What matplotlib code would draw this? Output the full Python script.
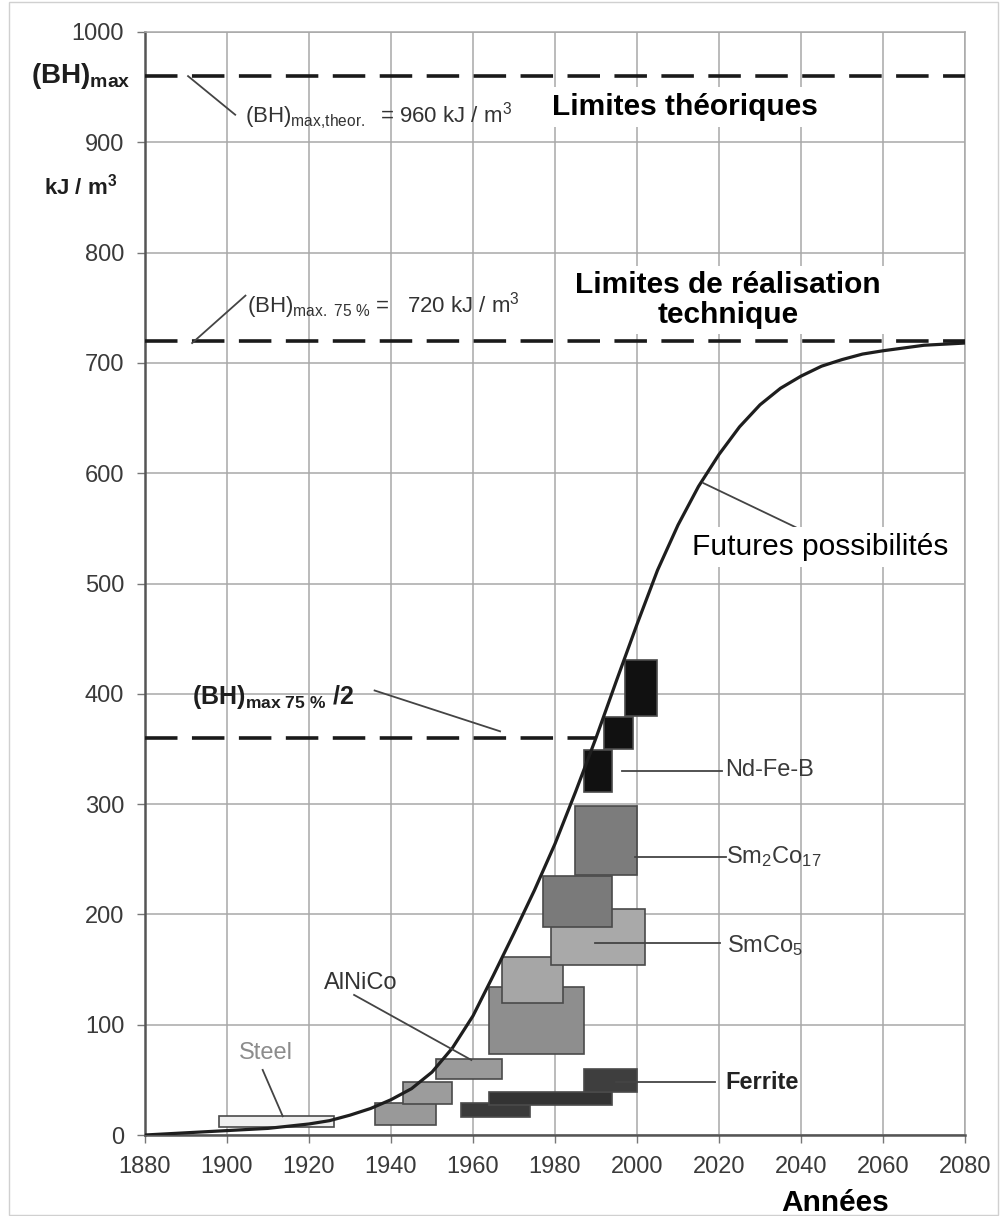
import numpy as np
import matplotlib.pyplot as plt
from matplotlib.patches import Rectangle

plt.rcParams['font.family'] = ['Liberation Sans', 'DejaVu Sans']
plt.rcParams['mathtext.fontset'] = 'custom'
plt.rcParams['mathtext.rm'] = 'Liberation Sans'
plt.rcParams['mathtext.bf'] = 'Liberation Sans:bold'
plt.rcParams['mathtext.it'] = 'Liberation Sans:italic'

# S-curve of (BH)max over the years
curve_years = [1880, 1890, 1900, 1910, 1920, 1925, 1930, 1935, 1940, 1945,
               1950, 1955, 1960, 1965, 1970, 1975, 1980, 1985, 1990, 1995,
               2000, 2005, 2010, 2015, 2020, 2025, 2030, 2035, 2040, 2045,
               2050, 2055, 2060, 2070, 2080]
curve_values = [0, 2, 4, 6, 10, 13, 18, 24, 32, 42,
                57, 79, 108, 145, 183, 222, 264, 311, 360, 412,
                463, 512, 553, 588, 617, 642, 662, 677, 688, 697,
                703, 708, 711, 716, 718]

# limits (kJ/m3)
bh_theor = 960
bh_75 = 720
bh_75_half = 360

# material ranges: (year start, year end, value low, value high)
steel_boxes = [(1898, 1926, 7, 17)]
alnico_boxes = [(1936, 1951, 9, 29), (1943, 1955, 28, 48), (1951, 1967, 51, 69),
                (1964, 1987, 73, 134), (1967, 1982, 120, 161)]
ferrite_boxes = [(1957, 1974, 16, 29), (1964, 1994, 27, 39), (1987, 2000, 39, 60)]
smco5_boxes = [(1979, 2002, 154, 205), (1977, 1994, 189, 235)]
sm2co17_boxes = [(1985, 2000, 236, 298)]
ndfeb_boxes = [(1987, 1994, 311, 349), (1992, 1999, 350, 379), (1997, 2005, 380, 431)]

x_ticks = list(range(1880, 2081, 20))
y_ticks = list(range(0, 1001, 100))

fig = plt.figure(figsize=(10.07, 12.16), dpi=100)
ax = fig.add_axes([145 / 1007, 81 / 1216, 820 / 1007, 1103 / 1216])
ax.set_xlim(1880, 2080)
ax.set_ylim(0, 1000)
ax.set_xticks(x_ticks)
ax.set_yticks(y_ticks)
ax.grid(True, color='#a8a8a8', lw=1.1, zorder=0)
ax.set_axisbelow(True)
for s in ['top', 'right']:
    ax.spines[s].set_color('#a8a8a8')
    ax.spines[s].set_linewidth(1.1)
for s in ['left', 'bottom']:
    ax.spines[s].set_color('#555555')
    ax.spines[s].set_linewidth(1.8)
ax.tick_params(direction='out', length=6, width=1, color='#777777',
               labelsize=17, labelcolor='#3a3a3a', pad=9)


def draw_boxes(boxes, colors):
    for (x0, x1, y0, y1), c in zip(boxes, colors):
        ax.add_patch(Rectangle((x0, y0), x1 - x0, y1 - y0, facecolor=c,
                               edgecolor='#4a4a4a', lw=1.2, zorder=3))


draw_boxes(steel_boxes, ['#efefef'])
draw_boxes(alnico_boxes, ['#999999', '#9c9c9c', '#9a9a9a', '#8e8e8e', '#a6a6a6'])
draw_boxes(ferrite_boxes, ['#3a3a3a', '#333333', '#3e3e3e'])
draw_boxes(smco5_boxes, ['#a9a9a9', '#7a7a7a'])
draw_boxes(sm2co17_boxes, ['#7c7c7c'])
draw_boxes(ndfeb_boxes, ['#111111', '#111111', '#111111'])

# curve
ax.plot(curve_years, curve_values, color='#1e1e1e', lw=2.3, zorder=4,
        solid_joinstyle='round')

# dashed limit lines
dash = (0, (9, 4))
ax.plot([1880, 2080], [bh_theor, bh_theor], color='#1a1a1a', lw=2.6, ls=dash, zorder=4)
ax.plot([1880, 2080], [bh_75, bh_75], color='#1a1a1a', lw=2.6, ls=dash, zorder=4)
ax.plot([1880, 1990], [bh_75_half, bh_75_half], color='#1a1a1a', lw=2.6, ls=dash, zorder=4)

# leader lines
lead = dict(color='#444444', lw=1.3, zorder=5)
ax.plot([1890.5, 1902], [960, 925], **lead)
ax.plot([1891.5, 1904.5], [718, 761], **lead)
ax.plot([1936, 1966.6], [403, 366], **lead)
ax.plot([2016.2, 2038.7], [591, 551], **lead)
ax.plot([1908.7, 1913.6], [59, 17], **lead)
ax.plot([1931, 1959.6], [127, 68], **lead)
ax.plot([1996.3, 2020.7], [330, 330], **lead)
ax.plot([1999.6, 2021.6], [252, 252], **lead)
ax.plot([1989.8, 2020.3], [174, 174], **lead)
ax.plot([1995, 2019], [48, 48], **lead)

# small gray annotations
ax.text(1904.5, 924, r'(BH)$_\mathregular{max{,}theor.}$  = 960 kJ / m$^\mathregular{3}$',
        fontsize=16, color='#333333', va='center', ha='left', zorder=6)
ax.text(1904.8, 752, r'(BH)$_\mathregular{max.\ 75\ \%}$ =   720 kJ / m$^\mathregular{3}$',
        fontsize=16, color='#333333', va='center', ha='left', zorder=6)
ax.text(1891.5, 397, r'(BH)$_\mathbf{max\ 75\ \%}$ /2', fontsize=18,
        fontweight='bold', color='#1e1e1e', va='center', ha='left', zorder=6)

# material labels
ax.text(1909.5, 74, 'Steel', fontsize=17, color='#8c8c8c', ha='center', va='center')
ax.text(1932.6, 138, 'AlNiCo', fontsize=17, color='#333333', ha='center', va='center')
ax.text(2021.5, 331, 'Nd-Fe-B', fontsize=17, color='#3a3a3a', ha='left', va='center')
ax.text(2021.8, 252, r'Sm$_\mathregular{2}$Co$_\mathregular{17}$', fontsize=17,
        color='#3a3a3a', ha='left', va='center')
ax.text(2022, 172, r'SmCo$_\mathregular{5}$', fontsize=17, color='#3a3a3a',
        ha='left', va='center')
ax.text(2021.6, 48, 'Ferrite', fontsize=17, fontweight='bold', color='#222222',
        ha='left', va='center')

# big black labels with white background
wbox = dict(facecolor='white', edgecolor='none', pad=4)
ax.text(1979.3, 932, 'Limites théoriques', fontsize=21.5, fontweight='bold',
        color='black', ha='left', va='center', bbox=wbox, zorder=6)
ax.text(2022.2, 757, 'Limites de réalisation\ntechnique', fontsize=21.5,
        fontweight='bold', color='black', ha='center', va='center',
        linespacing=1.05, bbox=wbox, zorder=6)
ax.text(2013.4, 533, 'Futures possibilités', fontsize=21.5, color='black',
        ha='left', va='center', bbox=wbox, zorder=6)

# left side labels outside the axes
ytr = ax.get_yaxis_transform()
ax.text(-0.018, 960, r'(BH)$_\mathbf{max}$', transform=ytr, fontsize=20,
        fontweight='bold', color='#1e1e1e', ha='right', va='center', clip_on=False)
ax.text(-0.034, 860, r'kJ / m$^\mathbf{3}$', transform=ytr, fontsize=16,
        fontweight='bold', color='#1e1e1e', ha='right', va='center', clip_on=False)

fig.text(835 / 1007, 1 - 1203 / 1216, 'Années', fontsize=21.5, fontweight='bold',
         color='black', ha='center', va='center')

# light frame around the picture
fig.patches.append(Rectangle((9 / 1007, 1 / 1216), 989 / 1007, 1213 / 1216,
                             transform=fig.transFigure, fill=False,
                             edgecolor='#d0d0d0', lw=1))

fig.savefig('out.png', dpi=100)
